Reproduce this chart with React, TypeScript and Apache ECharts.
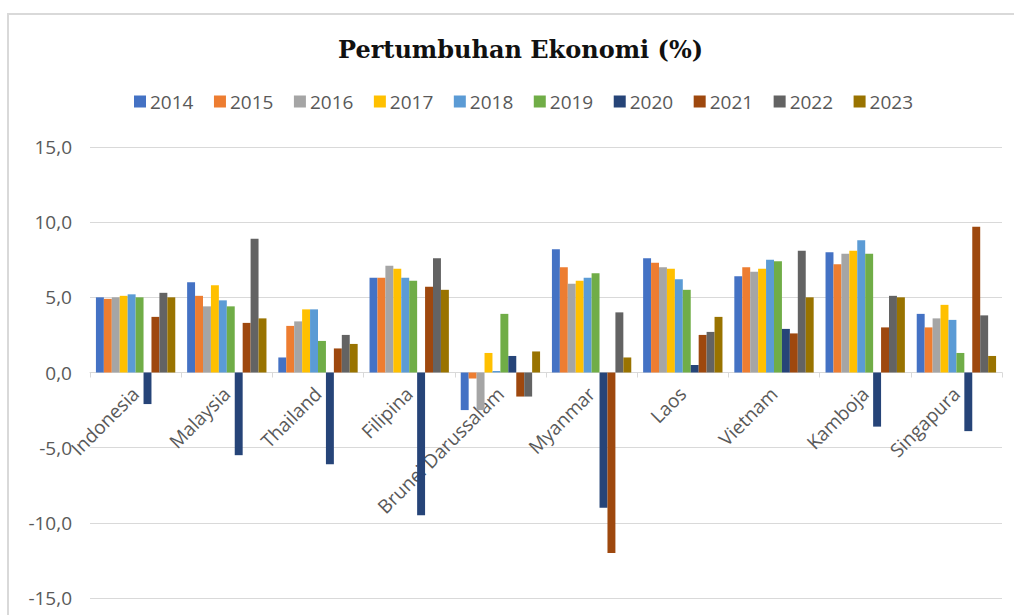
import React, { useEffect, useRef } from "react";
import * as echarts from "echarts";

const categories = ["Indonesia", "Malaysia", "Thailand", "Filipina", "Brunei Darussalam", "Myanmar", "Laos", "Vietnam", "Kamboja", "Singapura"];
const years = ["2014", "2015", "2016", "2017", "2018", "2019", "2020", "2021", "2022", "2023"];
const colors = ["#4472C4", "#ED7D31", "#A5A5A5", "#FFC000", "#5B9BD5", "#70AD47", "#264478", "#9E480E", "#636363", "#997300"];

const y2014 = [5.0, 6.0, 1.0, 6.3, -2.5, 8.2, 7.6, 6.4, 8.0, 3.9];
const y2015 = [4.9, 5.1, 3.1, 6.3, -0.4, 7.0, 7.3, 7.0, 7.2, 3.0];
const y2016 = [5.0, 4.4, 3.4, 7.1, -2.5, 5.9, 7.0, 6.7, 7.9, 3.6];
const y2017 = [5.1, 5.8, 4.2, 6.9, 1.3, 6.1, 6.9, 6.9, 8.1, 4.5];
const y2018 = [5.2, 4.8, 4.2, 6.3, 0.1, 6.3, 6.2, 7.5, 8.8, 3.5];
const y2019 = [5.0, 4.4, 2.1, 6.1, 3.9, 6.6, 5.5, 7.4, 7.9, 1.3];
const y2020 = [-2.1, -5.5, -6.1, -9.5, 1.1, -9.0, 0.5, 2.9, -3.6, -3.9];
const y2021 = [3.7, 3.3, 1.6, 5.7, -1.6, -12.0, 2.5, 2.6, 3.0, 9.7];
const y2022 = [5.3, 8.9, 2.5, 7.6, -1.6, 4.0, 2.7, 8.1, 5.1, 3.8];
const y2023 = [5.0, 3.6, 1.9, 5.5, 1.4, 1.0, 3.7, 5.0, 5.0, 1.1];

const seriesValues = [y2014, y2015, y2016, y2017, y2018, y2019, y2020, y2021, y2022, y2023];

const yMin = -15;
const yMax = 15;
const yInterval = 5;

export default function App() {
  const ref = useRef<HTMLDivElement>(null);
  useEffect(() => {
    if (!ref.current) return;
    const chart = echarts.init(ref.current, null, { renderer: "svg" });
    const font = "'Open Sans', 'Noto Sans', sans-serif";
    const H = 615;
    const gridTop = 147;
    const gridBottom = 17;
    const gridHeight = H - gridTop - gridBottom;
    // move the category axis (line, ticks, labels) up to the zero value
    const zeroOffset = -gridHeight * (0 - yMin) / (yMax - yMin);
    chart.setOption({
      animation: false,
      backgroundColor: "#ffffff",
      color: colors,
      title: {
        text: "Pertumbuhan Ekonomi (%)",
        left: 338,
        top: 37,
        padding: 0,
        textStyle: {
          fontFamily: "'DejaVu Serif', serif",
          fontWeight: "bold",
          fontSize: 24,
          color: "#111111",
        },
      },
      legend: {
        data: years,
        left: 134,
        top: 92,
        padding: 0,
        itemWidth: 12,
        itemHeight: 12,
        itemGap: 20.5,
        icon: "rect",
        textStyle: { fontFamily: font, fontSize: 19, color: "#595959", padding: [0, 0, 0, -1] },
      },
      graphic: [
        {
          type: "rect",
          shape: { x: 8, y: 14, width: 1030, height: 640 },
          style: { fill: "none", stroke: "#d9d9d9", lineWidth: 2 },
          silent: true,
        },
      ],
      grid: { left: 90, right: 12, top: gridTop, bottom: gridBottom, containLabel: false, outerBoundsMode: "none" },
      xAxis: {
        type: "category",
        data: categories,
        offset: zeroOffset,
        axisLine: { onZero: false, lineStyle: { color: "#d9d9d9", width: 1 } },
        axisTick: { show: true, length: 5, lineStyle: { color: "#d9d9d9" } },
        axisLabel: {
          rotate: 45,
          interval: 0,
          margin: 18,
          fontFamily: font,
          fontSize: 19,
          color: "#595959",
        },
      },
      yAxis: {
        type: "value",
        min: yMin,
        max: yMax,
        interval: yInterval,
        axisLine: { show: false },
        axisTick: { show: false },
        splitLine: { lineStyle: { color: "#d9d9d9", width: 1 } },
        axisLabel: {
          margin: 18,
          fontFamily: font,
          fontSize: 19,
          color: "#595959",
          formatter: (v: number) => v.toFixed(1).replace(".", ","),
        },
      },
      series: years.map((y, i) => ({
        name: y,
        type: "bar",
        data: seriesValues[i],
        barGap: "0%",
        barCategoryGap: "13%",
        itemStyle: { color: colors[i] },
      })),
    });
    return () => chart.dispose();
  }, []);
  return (
    <div
      ref={ref}
      style={{ position: "fixed", left: 0, top: 0, width: 1014, height: 615, background: "#fff" }}
    />
  );
}
